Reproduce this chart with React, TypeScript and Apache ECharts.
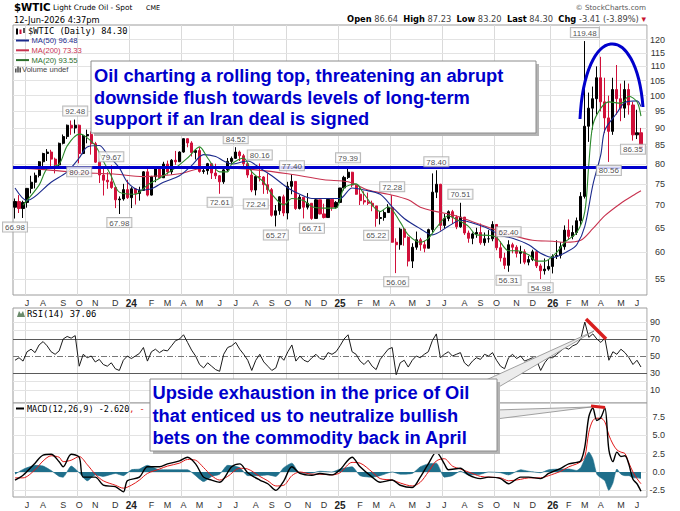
import React, { useEffect, useRef } from "react";
import * as echarts from "echarts";

// ---------------- data ----------------
const firstWeekWednesday = "2023-06-14";
const weekSlots = 158;

// weekly candles: [open, close, low, high]
const candles = [
  [69.5, 70.8, 66.98, 71.5], [70.8, 69.2, 68.2, 72.3], [69.2, 70.6, 67.1, 71.0], [70.6, 73.9, 69.4, 74.0], [73.9, 75.4, 72.7, 77.0],
  [75.4, 77.1, 73.9, 77.8], [77.1, 80.6, 76.6, 80.8], [80.6, 82.8, 78.8, 83.0], [82.8, 83.2, 80.8, 84.0], [83.2, 81.3, 79.5, 83.8],
  [81.3, 79.8, 77.6, 81.7], [79.8, 85.6, 79.3, 85.8], [85.6, 87.5, 85.3, 88.1], [87.5, 90.8, 86.8, 91.0], [90.8, 90.0, 88.0, 92.2],
  [90.0, 90.8, 88.4, 92.48], [90.8, 82.8, 80.2, 91.0], [82.8, 87.7, 82.6, 88.0], [87.7, 88.1, 85.6, 89.5], [88.1, 85.5, 82.5, 89.0],
  [85.5, 80.5, 80.3, 86.0], [80.5, 77.2, 75.2, 81.5], [77.2, 75.9, 72.2, 78.9], [75.9, 75.5, 73.8, 77.9], [75.5, 74.1, 73.8, 79.67],
  [74.1, 71.2, 69.3, 74.3], [71.2, 71.4, 67.98, 72.0], [71.4, 73.6, 71.0, 75.0], [73.6, 71.7, 71.4, 76.0], [71.7, 73.8, 69.3, 74.2],
  [73.8, 72.7, 70.1, 74.0], [72.7, 73.4, 71.0, 74.3], [73.4, 78.0, 73.4, 78.2], [78.0, 72.3, 72.0, 78.8], [72.3, 76.8, 72.2, 77.0],
  [76.8, 79.2, 75.4, 79.3], [79.2, 76.5, 76.4, 79.2], [76.5, 80.0, 76.5, 80.6], [80.0, 78.0, 77.3, 80.9], [78.0, 81.0, 77.3, 81.3],
  [81.0, 80.6, 79.8, 83.5], [80.6, 83.2, 80.6, 83.4], [83.2, 86.9, 83.0, 87.0], [86.9, 85.7, 84.5, 87.0], [85.7, 83.1, 82.0, 86.2],
  [83.1, 83.6, 81.2, 84.0], [83.6, 78.1, 77.8, 84.5], [78.1, 78.3, 77.5, 79.3], [78.3, 80.1, 77.3, 80.3], [80.1, 77.7, 76.2, 80.1],
  [77.7, 77.0, 76.2, 80.1], [77.0, 75.5, 72.61, 77.2], [75.5, 78.5, 75.0, 79.4], [78.5, 80.7, 78.1, 81.6], [80.7, 81.5, 80.1, 82.0],
  [81.5, 83.2, 81.4, 84.52], [83.2, 82.2, 80.8, 83.6], [82.2, 80.1, 79.2, 82.7], [80.1, 77.2, 76.5, 80.2], [77.2, 73.5, 73.0, 78.8],
  [73.5, 76.8, 72.24, 77.0], [76.8, 76.7, 75.6, 80.16], [76.7, 74.8, 72.6, 76.9], [74.8, 73.6, 72.6, 77.6], [73.6, 67.7, 67.4, 74.0],
  [67.7, 68.7, 65.27, 70.0], [68.7, 71.9, 67.8, 72.0], [71.9, 68.2, 67.5, 72.4], [68.2, 74.4, 66.8, 75.5], [74.4, 75.6, 72.5, 77.4],
  [75.6, 69.2, 68.9, 75.6], [69.2, 71.8, 69.0, 72.4], [71.8, 69.5, 67.0, 71.8], [69.5, 70.4, 69.0, 72.8], [70.4, 67.0, 66.71, 70.4],
  [67.0, 71.2, 67.0, 71.5], [71.2, 68.0, 67.9, 71.2], [68.0, 67.2, 67.0, 70.3], [67.2, 71.3, 67.2, 71.5], [71.3, 69.5, 68.7, 71.6],
  [69.5, 70.6, 69.2, 70.9], [70.6, 74.0, 70.5, 74.0], [74.0, 76.6, 73.4, 77.0], [76.6, 77.9, 76.2, 79.39], [77.9, 74.7, 74.2, 78.0],
  [74.7, 72.5, 72.4, 74.8], [72.5, 71.0, 70.0, 74.5], [71.0, 70.7, 70.1, 73.2], [70.7, 70.4, 70.0, 72.9], [70.4, 69.8, 68.6, 71.0],
  [69.8, 67.0, 65.22, 69.8], [67.0, 67.2, 65.7, 68.4], [67.2, 68.3, 66.5, 68.8], [68.3, 69.4, 68.3, 70.2], [69.4, 62.0, 61.9, 72.28],
  [62.0, 61.5, 56.06, 62.8], [61.5, 64.7, 60.5, 65.0], [64.7, 63.0, 61.3, 65.0], [63.0, 58.3, 57.3, 63.2], [58.3, 61.0, 57.0, 61.8],
  [61.0, 62.5, 60.5, 64.2], [62.5, 61.5, 60.3, 62.9], [61.5, 60.8, 60.0, 62.3], [60.8, 64.6, 60.8, 64.8], [64.6, 73.0, 64.0, 77.6],
  [73.0, 74.9, 71.6, 78.4], [74.9, 65.5, 64.4, 75.0], [65.5, 67.0, 64.9, 68.0], [67.0, 68.5, 66.4, 68.8], [68.5, 67.3, 65.8, 68.9],
  [67.3, 65.2, 64.7, 67.7], [65.2, 67.3, 65.0, 70.51], [67.3, 63.9, 63.5, 67.3], [63.9, 62.8, 61.9, 64.4], [62.8, 63.7, 61.6, 64.0],
  [63.7, 64.0, 62.9, 65.0], [64.0, 61.9, 61.5, 65.9], [61.9, 62.7, 61.3, 64.0], [62.7, 62.7, 61.9, 64.5], [62.7, 65.7, 62.2, 66.4],
  [65.7, 60.9, 60.4, 65.8], [60.9, 58.9, 58.2, 62.2], [58.9, 57.5, 56.8, 59.9], [57.5, 61.5, 56.31, 62.4], [61.5, 61.0, 59.8, 61.9],
  [61.0, 59.8, 59.0, 61.4], [59.8, 60.1, 57.8, 61.3], [60.1, 58.1, 57.7, 60.6], [58.1, 58.6, 57.5, 59.3], [58.6, 60.1, 58.3, 60.5],
  [60.1, 57.4, 57.0, 60.2], [57.4, 56.5, 54.98, 57.8], [56.5, 56.8, 55.8, 58.8], [56.8, 57.3, 56.5, 58.5], [57.3, 59.2, 56.0, 59.6],
  [59.2, 59.4, 58.7, 62.4], [59.4, 61.1, 58.8, 62.0], [61.1, 64.5, 60.5, 65.5], [64.5, 63.2, 62.5, 66.8], [63.2, 64.0, 62.6, 65.5],
  [64.0, 66.5, 63.5, 67.2], [66.5, 72.0, 65.5, 73.0], [72.0, 90.5, 71.5, 119.48], [90.5, 96.0, 86.0, 101.0], [96.0, 99.0, 89.5, 103.0],
  [99.0, 106.0, 94.0, 110.0], [106.0, 98.0, 95.0, 113.5], [98.0, 93.0, 88.5, 106.0], [93.0, 89.0, 80.56, 100.0], [89.0, 102.0, 88.0, 106.0],
  [102.0, 99.0, 94.0, 110.5], [99.0, 96.0, 92.0, 104.0], [96.0, 102.0, 93.0, 105.0], [102.0, 97.0, 94.0, 104.0], [97.0, 88.0, 86.35, 98.0],
  [88.0, 88.6, 86.8, 95.5], [88.6, 84.3, 83.2, 90.0],
];

// moving averages: [week index, value]
const ma20 = [
  [2, 70], [6, 74.7], [8, 78.8], [11, 80], [13, 84.9], [16, 88.2], [17, 88], [20, 85], [22, 80.8], [24, 76.9], [26, 73],
  [30, 72.5], [33, 74.7], [36, 76.4], [40, 79], [43, 81.6], [46, 84.6], [48, 81.6], [51, 78], [53, 78], [54, 80], [57, 81.6],
  [59, 78], [62, 75.4], [64, 72.5], [67, 70], [69, 71.5], [72, 71], [74, 69.6], [77, 69.3], [80, 69.3], [82, 74], [85, 75],
  [87, 72.5], [91, 68.5], [93, 69.6], [96, 66.2], [98, 63.5], [101, 62], [103, 62.8], [105, 65], [108, 67.6], [110, 66.8],
  [113, 65.3], [115, 63.5], [118, 63.4], [120, 63], [123, 60.3], [125, 60.3], [128, 59.5], [130, 58.3], [132, 58.3], [135, 60],
  [137, 62], [140, 64], [142, 68.5], [143, 80], [144, 90.8], [146, 96], [148, 98], [151, 97.5], [153, 99.8], [155, 98], [156, 93.55],
];
const ma50 = [
  [0, 74], [3, 71], [9, 75.4], [13, 78], [16, 81.6], [18, 84.6], [21, 85], [23, 82.6], [26, 79], [28, 75.4], [31, 73.5],
  [34, 73.8], [37, 75.4], [41, 77], [44, 79.6], [47, 82.5], [50, 82], [52, 80.8], [54, 80], [58, 80.8], [61, 79], [64, 77],
  [68, 74], [71, 72.5], [74, 71.5], [77, 71.5], [81, 71.5], [84, 74], [87, 73.5], [91, 72.5], [94, 69.6], [97, 67], [101, 64.8],
  [104, 63.5], [108, 65.3], [111, 66.6], [114, 66], [118, 64.8], [121, 63.4], [124, 62.8], [128, 61.5], [131, 59.8], [134, 59],
  [138, 60.3], [140, 61.5], [142, 65.3], [144, 74.7], [146, 82.6], [147, 89.4], [150, 94.5], [152, 97.8], [155, 98.3], [156, 96.48],
];
const ma200 = [
  [0, 79], [8, 78.5], [16, 77.8], [24, 77.5], [32, 76.8], [41, 77.5], [46, 78.8], [52, 79], [60, 78.5], [68, 77.5], [77, 76],
  [83, 75.5], [88, 73.5], [93, 72.5], [98, 71.2], [101, 69.5], [105, 68.5], [109, 67.8], [114, 66.3], [119, 64.8], [124, 63.4],
  [129, 62.4], [134, 62.2], [137, 62], [141, 62.4], [144, 64.8], [147, 67.6], [151, 70.4], [154, 72.2], [156, 73.33],
];

// swing labels
const highLabels = [
  [15, 92.48], [24, 79.67], [55, 84.52], [61, 80.16], [69, 77.4], [83, 79.39], [94, 72.28], [105, 78.4], [111, 70.51], [123, 62.4], [142, 119.48],
];
const lowLabels = [
  [0, 66.98], [16, 80.2], [26, 67.98], [51, 72.61], [60, 72.24], [65, 65.27], [74, 66.71], [90, 65.22], [95, 56.06], [123, 56.31],
  [131, 54.98], [148, 80.56], [154, 86.35],
];

const priceTicks = [55, 60, 65, 70, 75, 80, 85, 90, 95, 100, 105, 110, 115, 120];
const supportLevel = 79.1;

// RSI(14), one reading per week
const rsi = [
  45, 48, 44, 55, 58, 54, 63, 67, 62, 55,
  52, 56, 70, 73, 71, 74, 38, 52, 48, 50,
  43, 46, 40, 38, 42, 35, 33, 45, 50, 47,
  50, 53, 60, 44, 55, 58, 54, 57, 56, 62,
  68, 70, 75, 66, 57, 50, 40, 36, 42, 38,
  34, 32, 52, 60, 62, 66, 58, 52, 45, 33,
  45, 52, 43, 38, 33, 36, 50, 45, 55, 63,
  44, 50, 45, 43, 48, 52, 47, 46, 54, 52,
  55, 62, 70, 75, 55, 52, 44, 40, 45, 38,
  34, 46, 52, 58, 60, 28, 42, 45, 37, 45,
  50, 48, 52, 55, 68, 76, 48, 52, 55, 50,
  52, 54, 42, 38, 44, 48, 46, 52, 50, 54,
  45, 38, 35, 48, 52, 47, 50, 44, 46, 48,
  45, 33, 42, 48, 48, 52, 56, 60, 58, 62,
  64, 70, 90, 72, 76, 70, 66, 71, 45, 55,
  52, 58, 54, 48, 40, 45, 37.06,
];
const rsiTicks = [10, 30, 50, 70, 90];

// MACD(12,26,9): [week index, value]
const macdLine = [
  [0, -1.1], [2, -0.45], [5, 1.2], [7, 2.3], [9, 2.4], [11, 1.4], [12, 0.7], [14, 2.4], [16, 2.0], [17, -0.7], [20, -0.7],
  [22, -1.8], [25, -2.0], [27, -2.7], [28, -1.2], [31, -0.7], [33, 0.7], [36, 0.7], [38, 1.1], [41, 1.5], [43, 2.0], [45, 1.1],
  [47, -0.7], [49, -1.1], [51, -1.4], [54, 0.7], [56, 1.1], [58, -0.1], [61, -1.1], [63, -1.6], [65, -2.5], [67, -1.2], [69, 0.7],
  [71, -0.2], [74, -0.45], [76, -0.2], [79, -0.4], [81, 0.3], [84, 2.0], [86, 0.7], [89, -0.7], [91, -1.4], [94, -1.1], [96, -1.8],
  [99, -2.1], [101, -0.7], [103, 1.1], [105, 2.7], [107, 1.1], [108, 0.3], [111, 0.5], [113, -0.4], [116, -0.9], [118, -0.7],
  [121, -0.9], [123, -1.6], [126, -0.7], [128, -0.7], [131, -0.9], [133, -0.2], [136, 0.5], [138, 1.1], [140, 1.3], [141, 1.5],
  [142, 3.4], [143, 7.5], [144, 8.7], [145, 7.0], [146, 7.4], [147, 8.7], [148, 3.0], [149, 1.4], [150, 2.7], [151, 2.1],
  [152, 2.2], [153, 1.0], [154, -1.0], [155, -1.6], [156, -2.62],
];
const signalLine = [
  [0, -0.8], [2, -0.8], [5, 0.3], [7, 1.5], [9, 2.2], [11, 2.0], [12, 1.4], [14, 1.6], [16, 2.1], [18, 1.0], [20, -0.3],
  [22, -1.2], [25, -1.8], [27, -2.2], [29, -1.8], [31, -1.1], [33, -0.2], [36, 0.4], [38, 0.8], [41, 1.2], [43, 1.7], [45, 1.6],
  [47, 0.6], [49, -0.5], [51, -1.1], [53, -0.6], [56, 0.5], [58, 0.4], [61, -0.6], [63, -1.2], [65, -1.9], [67, -1.8], [69, -0.5],
  [71, 0.0], [74, -0.3], [76, -0.3], [79, -0.4], [81, -0.1], [84, 1.3], [86, 1.2], [89, 0.0], [91, -0.9], [94, -1.1], [96, -1.5],
  [99, -1.9], [101, -1.4], [103, 0.0], [105, 1.5], [107, 1.8], [109, 0.8], [111, 0.4], [113, 0.0], [116, -0.6], [118, -0.7],
  [121, -0.8], [123, -1.2], [126, -1.0], [128, -0.8], [131, -0.8], [133, -0.5], [136, 0.1], [138, 0.7], [140, 1.1], [141, 1.4],
  [142, 2.0], [143, 5.4], [144, 7.0], [145, 7.3], [146, 7.3], [147, 6.8], [148, 5.0], [149, 3.8], [150, 3.0], [151, 2.7],
  [152, 2.5], [153, 1.2], [154, 0.0], [155, -0.9], [156, -1.6],
];
const macdHistogram = [
  [0, -0.3], [2, 0.35], [5, 0.9], [7, 0.8], [9, 0.2], [11, -0.6], [12, -0.7], [14, 0.8], [16, -0.1], [18, -1.2], [20, -0.4],
  [22, -0.6], [25, -0.2], [27, -0.5], [29, 0.3], [31, 0.4], [33, 0.9], [36, 0.3], [38, 0.3], [41, 0.3], [43, 0.3], [45, -0.5],
  [47, -1.3], [49, -0.6], [51, -0.3], [53, 0.9], [56, 0.6], [58, -0.5], [61, -0.5], [63, -0.4], [65, -0.6], [67, 0.6], [69, 1.2],
  [71, -0.2], [74, -0.15], [76, 0.1], [79, 0.0], [81, 0.4], [84, 0.7], [86, -0.5], [89, -0.7], [91, -0.5], [94, 0.0], [96, -0.3],
  [99, -0.2], [101, 0.7], [103, 1.1], [105, 1.2], [107, -0.7], [109, -0.5], [111, 0.1], [113, -0.4], [116, -0.3], [118, 0.0],
  [121, -0.1], [123, -0.4], [126, 0.3], [128, 0.1], [131, -0.1], [133, 0.3], [136, 0.4], [138, 0.4], [140, 0.2], [141, 0.6],
  [142, 1.8], [143, 2.7], [144, 1.8], [145, -0.3], [146, -0.8], [147, -1.2], [148, -2.5], [149, -1.5], [150, 0.4], [151, -0.3],
  [152, -0.5], [153, -0.5], [154, -0.8], [155, -0.8], [156, -0.9],
];
const macdTicks = [-2.5, 0, 2.5, 5, 7.5];

// ---------------- helpers ----------------
const weeks: string[] = [];
{
  const t0 = Date.parse(firstWeekWednesday + "T00:00:00Z");
  for (let i = 0; i < weekSlots; i++) weeks.push(new Date(t0 + i * 7 * 86400000).toISOString().slice(0, 10));
}
const monthOf = (s: string) => Number(s.slice(5, 7)) - 1;
const isMonthStart = (i: number) => i > 0 && i < weeks.length && monthOf(weeks[i]) !== monthOf(weeks[i - 1]);
const isQuarterStart = (i: number) => isMonthStart(i) && monthOf(weeks[i]) % 3 === 0;
const monthLetters = "JFMAMJJASOND";
const monthLabel = (v: string) => {
  const m = monthOf(v);
  return m === 0 ? `{yr|${v.slice(2, 4)}}` : monthLetters[m];
};

const SANS = '"Liberation Sans", Arial, sans-serif';
const DJ = '"DejaVu Sans", sans-serif';
const MONO = '"DejaVu Sans Mono", monospace';
const BLUE = "#0000cc";

function buildOption() {
  const gridBase = { left: 13, width: 634, show: true, borderColor: "#9c9c9c", borderWidth: 1, backgroundColor: "#fff" };
  const xAxes = [0, 1, 2].map((i) => ({
    type: "category",
    gridIndex: i,
    data: weeks,
    boundaryGap: true,
    axisLine: { show: false },
    axisTick: { show: false },
    axisLabel:
      i === 1
        ? { show: false }
        : {
            show: true,
            interval: (idx: number) => isMonthStart(idx),
            formatter: monthLabel,
            fontSize: 9,
            color: "#333",
            fontFamily: SANS,
            margin: 3,
            rich: { yr: { fontWeight: "bold", fontSize: 10, color: "#222", fontFamily: SANS } },
          },
    splitLine: { show: true, interval: (idx: number) => isQuarterStart(idx), lineStyle: { color: "#dadada", width: 1 } },
  }));

  const yLabel = (extra: any) => ({ fontSize: 9, color: "#333", fontFamily: SANS, align: "right", ...extra });

  const labelStyle = {
    show: true,
    fontSize: 8,
    color: "#222",
    fontFamily: SANS,
    backgroundColor: "#fff",
    borderColor: "#a8a8a8",
    borderWidth: 1,
    padding: [1, 2, 0, 2],
    formatter: (p: any) => Number(p.data[1]).toFixed(2),
  };

  const lightLine = { color: "#e3e3e3", width: 1, type: "solid" };

  return {
    animation: false,
    backgroundColor: "#fff",
    textStyle: { fontFamily: SANS },
    grid: [
      { ...gridBase, top: 25, height: 270 },
      { ...gridBase, top: 308, height: 95 },
      { ...gridBase, top: 403, height: 94 },
    ],
    xAxis: xAxes,
    yAxis: [
      {
        type: "log",
        gridIndex: 0,
        position: "right",
        min: 52.2,
        max: 125.9,
        axisLine: { show: false },
        axisTick: { show: false },
        splitLine: { show: false },
        axisLabel: yLabel({ customValues: priceTicks, margin: 18, formatter: (v: number) => String(Math.round(v)) }),
      },
      {
        type: "value",
        gridIndex: 1,
        position: "right",
        min: -5.3,
        max: 106.5,
        axisLine: { show: false },
        axisTick: { show: false },
        splitLine: { show: false },
        axisLabel: yLabel({ customValues: rsiTicks, margin: 13, formatter: (v: number) => String(Math.round(v)) }),
      },
      {
        type: "value",
        gridIndex: 2,
        position: "right",
        min: -3.4,
        max: 9.37,
        axisLine: { show: false },
        axisTick: { show: false },
        splitLine: { show: false },
        axisLabel: yLabel({ customValues: macdTicks, margin: 18, formatter: (v: number) => Number(v).toFixed(1) }),
      },
    ],
    series: [
      // price grid lines
      {
        type: "line",
        xAxisIndex: 0,
        yAxisIndex: 0,
        data: [],
        silent: true,
        markLine: {
          silent: true,
          symbol: "none",
          z: 1,
          label: { show: false },
          lineStyle: lightLine,
          data: priceTicks.map((v) => ({ yAxis: v })),
        },
      },
      {
        type: "candlestick",
        xAxisIndex: 0,
        yAxisIndex: 0,
        data: candles,
        barWidth: 2.6,
        silent: true,
        itemStyle: { color: "#000", color0: "#d0103a", borderColor: "#000", borderColor0: "#d0103a", borderWidth: 1 },
        markLine: {
          silent: true,
          symbol: "none",
          label: { show: false },
          lineStyle: { color: BLUE, width: 3, type: "solid" },
          data: [{ yAxis: supportLevel }],
        },
      },
      { type: "line", xAxisIndex: 0, yAxisIndex: 0, data: ma200, showSymbol: false, smooth: 0.3, silent: true, lineStyle: { color: "#c8324f", width: 1.1 } },
      { type: "line", xAxisIndex: 0, yAxisIndex: 0, data: ma50, showSymbol: false, smooth: 0.3, silent: true, lineStyle: { color: "#1b2a8c", width: 1.1 } },
      { type: "line", xAxisIndex: 0, yAxisIndex: 0, data: ma20, showSymbol: false, smooth: 0.3, silent: true, lineStyle: { color: "#2b8a2b", width: 1.1 } },
      {
        type: "scatter",
        xAxisIndex: 0,
        yAxisIndex: 0,
        data: highLabels,
        symbolSize: 0.1,
        silent: true,
        itemStyle: { color: "transparent" },
        label: { ...labelStyle, position: "top", distance: 4 },
        z: 6,
      },
      {
        type: "scatter",
        xAxisIndex: 0,
        yAxisIndex: 0,
        data: lowLabels,
        symbolSize: 0.1,
        silent: true,
        itemStyle: { color: "transparent" },
        label: { ...labelStyle, position: "bottom", distance: 4 },
        z: 6,
      },
      // RSI panel
      {
        type: "line",
        xAxisIndex: 1,
        yAxisIndex: 1,
        data: [],
        silent: true,
        markLine: {
          silent: true,
          symbol: "none",
          z: 1,
          label: { show: false },
          lineStyle: lightLine,
          data: [
            { yAxis: 90 },
            { yAxis: 80 },
            { yAxis: 20 },
            { yAxis: 10 },
            { yAxis: 70, lineStyle: { color: "#5a5a5a", width: 1, type: "solid" } },
            { yAxis: 30, lineStyle: { color: "#5a5a5a", width: 1, type: "solid" } },
            { yAxis: 50, lineStyle: { color: "#777", width: 1, type: [6, 2, 1, 2] } },
          ],
        },
      },
      {
        type: "line",
        xAxisIndex: 1,
        yAxisIndex: 1,
        data: rsi,
        showSymbol: false,
        silent: true,
        lineStyle: { color: "#1a1a1a", width: 1 },
        z: 3,
      },
      // MACD panel
      {
        type: "line",
        xAxisIndex: 2,
        yAxisIndex: 2,
        data: [],
        silent: true,
        markLine: {
          silent: true,
          symbol: "none",
          z: 1,
          label: { show: false },
          lineStyle: lightLine,
          data: macdTicks.map((v) => ({ yAxis: v })),
        },
      },
      {
        type: "line",
        xAxisIndex: 2,
        yAxisIndex: 2,
        data: macdHistogram,
        showSymbol: false,
        silent: true,
        smooth: 0.2,
        lineStyle: { color: "#1f6f8b", width: 0.6 },
        areaStyle: { color: "#1f6f8b", opacity: 1, origin: 0 },
        z: 2,
      },
      {
        type: "line",
        xAxisIndex: 2,
        yAxisIndex: 2,
        data: signalLine,
        showSymbol: false,
        silent: true,
        smooth: 0.3,
        lineStyle: { color: "#e01818", width: 1 },
        z: 3,
      },
      {
        type: "line",
        xAxisIndex: 2,
        yAxisIndex: 2,
        data: macdLine,
        showSymbol: false,
        silent: true,
        smooth: 0.3,
        lineStyle: { color: "#000", width: 1.4 },
        z: 4,
      },
    ],
    graphic: buildGraphics(),
  };
}

function txt(x: number, y: number, text: string, font: string, fill: string, align = "left", extra: any = {}) {
  return {
    type: "text",
    x,
    y,
    z: 100,
    silent: true,
    style: { text, font, fill, align, textAlign: align, verticalAlign: "middle", textVerticalAlign: "middle", ...extra },
  };
}

function buildGraphics() {
  const boxFont = `bold 18.3px ${SANS}`;
  const g: any[] = [];
  // header
  g.push(txt(14, 7, "$WTIC", `bold 10.2px ${DJ}`, "#000"));
  g.push(txt(53, 7.6, "Light Crude Oil - Spot", `7.4px ${DJ}`, "#000"));
  g.push(txt(146, 8, "CME", `6.4px ${DJ}`, "#000"));
  g.push(txt(14, 19.5, "12-Jun-2026 4:37pm", `8.3px ${DJ}`, "#000"));
  g.push(txt(646, 7.5, "\u00a9 StockCharts.com", `7.2px ${DJ}`, "#555", "right"));
  g.push(
    txt(
      646,
      19,
      "{b|Open} {v|86.64}  {b|High} {v|87.23}  {b|Low} {v|83.20}  {b|Last} {v|84.30}  {b|Chg} {v|-3.41 (-3.89%)} {t|\u25be}",
      `8.3px ${DJ}`,
      "#000",
      "right",
      {
        rich: {
          b: { font: `bold 8.3px ${DJ}`, fill: "#000" },
          v: { font: `8.3px ${DJ}`, fill: "#444" },
          t: { font: `9px ${DJ}`, fill: "#c8102e" },
        },
      }
    )
  );

  // price panel legend
  g.push({ type: "rect", z: 100, silent: true, shape: { x: 16, y: 28.5, width: 2, height: 6 }, style: { fill: "#000" } });
  g.push({ type: "rect", z: 100, silent: true, shape: { x: 19.5, y: 29.5, width: 2, height: 4.5 }, style: { fill: "#d0103a" } });
  g.push({ type: "rect", z: 100, silent: true, shape: { x: 23, y: 28, width: 2, height: 5 }, style: { fill: "#555" } });
  g.push(txt(28, 31.3, "$WTIC (Daily) 84.30", `8.7px ${MONO}`, "#000"));
  const maRows = [
    { y: 40.5, text: "MA(50) 96.48", color: "#1b2a8c" },
    { y: 50.3, text: "MA(200) 73.33", color: "#c8324f" },
    { y: 60.1, text: "MA(20) 93.55", color: "#2b6e2b" },
  ];
  maRows.forEach((r) => {
    g.push({ type: "line", z: 100, silent: true, shape: { x1: 16, y1: r.y, x2: 29, y2: r.y }, style: { stroke: r.color, lineWidth: 2 } });
    g.push(txt(31.5, r.y, r.text, `7.6px ${SANS}`, r.color));
  });
  [0, 1, 2].forEach((k) => {
    const h = [4, 6, 5][k];
    g.push({ type: "rect", z: 100, silent: true, shape: { x: 15 + k * 2.2, y: 72.5 - h, width: 1.6, height: h }, style: { fill: "#555" } });
  });
  g.push(txt(22, 69.8, "Volume undef", `7.6px ${SANS}`, "#444"));

  // RSI legend
  g.push({ type: "polygon", z: 100, silent: true, shape: { points: [[17, 317], [19, 311], [21, 314], [23, 311], [25, 317]] }, style: { fill: "#6a8a6a" } });
  g.push(txt(27, 314, "RSI(14) 37.06", `8.9px ${MONO}`, "#000"));
  // MACD legend
  g.push({ type: "line", z: 100, silent: true, shape: { x1: 16, y1: 408.5, x2: 24, y2: 408.5 }, style: { stroke: "#000", lineWidth: 2 } });
  g.push(
    txt(27, 408.5, "{k|MACD(12,26,9) -2.620}{r|, -}", `8.5px ${MONO}`, "#000", "left", {
      rich: { k: { font: `8.5px ${MONO}`, fill: "#000" }, r: { font: `8.5px ${MONO}`, fill: "#e01818" } },
    })
  );

  // blue rounding-top arc
  g.push({
    type: "bezierCurve",
    z: 100,
    silent: true,
    shape: { x1: 580, y1: 119, cpx1: 585, cpy1: 22, cpx2: 636, cpy2: 20, x2: 643, y2: 107 },
    style: { stroke: BLUE, lineWidth: 3, fill: "none" },
  });

  // red exhaustion marks
  g.push({ type: "line", z: 100, silent: true, shape: { x1: 586, y1: 319, x2: 606, y2: 339 }, style: { stroke: "#d81e1e", lineWidth: 3.5 } });
  g.push({ type: "line", z: 100, silent: true, shape: { x1: 591, y1: 406, x2: 605, y2: 407.5 }, style: { stroke: "#d81e1e", lineWidth: 3 } });

  // callout wedges
  g.push({ type: "polygon", z: 100, silent: true, shape: { points: [[486, 380], [497, 388], [594, 331]] }, style: { fill: "#ececec", stroke: "#8a8a8a", lineWidth: 0.8 } });
  g.push({ type: "polygon", z: 100, silent: true, shape: { points: [[496, 410], [496, 419], [591, 407]] }, style: { fill: "#ececec", stroke: "#8a8a8a", lineWidth: 0.8 } });

  // annotation box 1
  g.push({ type: "rect", z: 100, silent: true, shape: { x: 94, y: 64, width: 445, height: 72 }, style: { fill: "#b4b4b4" } });
  g.push({ type: "rect", z: 100, silent: true, shape: { x: 91, y: 61, width: 445, height: 72 }, style: { fill: "#fff", stroke: "#8c8c8c", lineWidth: 1 } });
  g.push(txt(94, 75.8, "Oil charting a rolling top, threatening an abrupt", boxFont, BLUE));
  g.push(txt(94, 97.3, "downside flush towards levels of long-term", boxFont, BLUE));
  g.push(txt(94, 118.8, "support if an Iran deal is signed", boxFont, BLUE));

  // annotation box 2
  g.push({ type: "rect", z: 100, silent: true, shape: { x: 153, y: 382, width: 347, height: 72 }, style: { fill: "#b4b4b4" } });
  g.push({ type: "rect", z: 100, silent: true, shape: { x: 150, y: 379, width: 347, height: 72 }, style: { fill: "#fff", stroke: "#8c8c8c", lineWidth: 1 } });
  g.push(txt(152.5, 392.8, "Upside exhaustion in the price of Oil", boxFont, BLUE));
  g.push(txt(152.5, 415.3, "that enticed us to neutralize bullish", boxFont, BLUE));
  g.push(txt(152.5, 437.8, "bets on the commodity back in April", boxFont, BLUE));
  return g;
}

export default function App() {
  const ref = useRef<HTMLDivElement>(null);
  useEffect(() => {
    if (!ref.current) return;
    const chart = echarts.init(ref.current, null, { renderer: "svg" });
    chart.setOption(buildOption() as any);
    return () => chart.dispose();
  }, []);
  return <div ref={ref} style={{ position: "fixed", left: 0, top: 0, width: 680, height: 511, background: "#fff" }} />;
}
